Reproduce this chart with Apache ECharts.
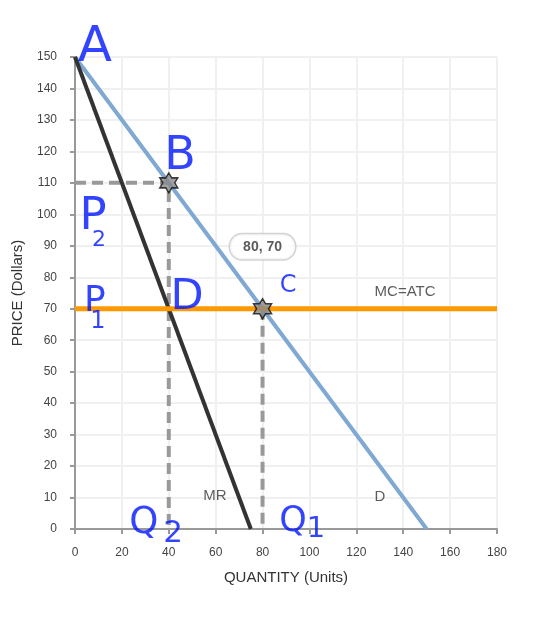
<!DOCTYPE html>
<html>
<head>
<meta charset="utf-8">
<script src="https://cdn.jsdelivr.net/npm/echarts@6/dist/echarts.min.js"></script>
<style>
html,body{margin:0;padding:0;background:#fff;}
#chart{width:546px;height:617px;}
</style>
</head>
<body>
<div id="chart"></div>
<script>
// ---- data ----
const demand = [[0, 150], [150, 0]];          // D
const marginalRevenue = [[0, 150], [75, 0]];  // MR
const mcAtc = [[0, 70], [180, 70]];           // MC=ATC
const dashMonopoly = [[0, 110], [40, 110], [40, 0]];
const dashCompetitive = [[80, 70], [80, 0]];
const starPoints = [[40, 110], [80, 70]];
const calloutPoint = [[80, 70]];
const calloutText = '80, 70';
const curveLabels = [
  [59.7, 10.5, 'MR'],
  [130.1, 10.2, 'D'],
  [140.8, 75.3, 'MC=ATC']
];
// handwritten annotations: [x, y, text, fontSize]
const handLabels = [
  [8.5, 152.9, 'A', 50],
  [44.8, 118.2, 'B', 46],
  [7.7, 99.2, 'P', 45],
  [10.2, 91.9, '2', 22],
  [47.8, 73.4, 'D', 43],
  [8.5, 72.4, 'P', 36],
  [9.8, 65.8, '1', 24],
  [90.9, 77.2, 'C', 24],
  [29.4, 1.9, 'Q', 37],
  [41.8, -1.6, '2', 31],
  [93.0, 2.2, 'Q', 35],
  [102.8, 0.0, '1', 29]
];
const xTicks = { min: 0, max: 180, interval: 20 };
const yTicks = { min: 0, max: 150, interval: 10 };

const star = 'path://M10 0 L12.885 5 L18.66 5 L15.77 10 L18.66 15 L12.885 15 L10 20 L7.115 15 L1.34 15 L4.23 10 L1.34 5 L7.115 5 Z';
const FONT = 'Liberation Sans, Arial, sans-serif';

const chart = echarts.init(document.getElementById('chart'));
chart.setOption({
  animation: false,
  backgroundColor: '#fff',
  grid: { left: 75, right: 49, top: 57, bottom: 88, containLabel: false },
  xAxis: {
    type: 'value', min: xTicks.min, max: xTicks.max, interval: xTicks.interval,
    name: 'QUANTITY (Units)', nameLocation: 'middle', nameGap: 41,
    nameTextStyle: { fontFamily: FONT, fontSize: 15, color: '#333' },
    axisLine: { show: true, lineStyle: { color: '#999', width: 2 } },
    axisTick: { show: true, length: 5, lineStyle: { color: '#999', width: 2 } },
    axisLabel: { fontFamily: FONT, fontSize: 12, color: '#444', margin: 18 },
    splitLine: { show: true, lineStyle: { color: '#f0f0f0', width: 2 } }
  },
  yAxis: {
    type: 'value', min: yTicks.min, max: yTicks.max, interval: yTicks.interval,
    name: 'PRICE (Dollars)', nameLocation: 'middle', nameGap: 50,
    nameTextStyle: { fontFamily: FONT, fontSize: 15, color: '#333' },
    axisLine: { show: true, lineStyle: { color: '#999', width: 2 } },
    axisTick: { show: true, length: 5, lineStyle: { color: '#999', width: 2 } },
    axisLabel: { fontFamily: FONT, fontSize: 12, color: '#444', margin: 18 },
    splitLine: { show: true, lineStyle: { color: '#f0f0f0', width: 2 } }
  },
  series: [
    { type: 'line', data: dashMonopoly, symbol: 'none', z: 2,
      lineStyle: { color: '#999', width: 4, type: [11, 6] } },
    { type: 'line', data: dashCompetitive, symbol: 'none', z: 2,
      lineStyle: { color: '#999', width: 4, type: [11, 6] } },
    { type: 'line', data: demand, symbol: 'none', z: 3,
      lineStyle: { color: '#7fa8d2', width: 4 } },
    { type: 'line', data: marginalRevenue, symbol: 'none', z: 4,
      lineStyle: { color: '#333', width: 4 } },
    { type: 'line', data: mcAtc, symbol: 'none', z: 5,
      lineStyle: { color: '#ff9900', width: 5 } },
    { type: 'scatter', data: starPoints, symbol: star, symbolSize: [18, 20], z: 6,
      itemStyle: { color: '#8a8a8a', borderColor: '#111', borderWidth: 1.5 } },
    { type: 'scatter', data: calloutPoint, symbolSize: 0, z: 7,
      label: { show: true, formatter: calloutText, position: 'inside', offset: [0, -62],
        fontFamily: FONT, fontSize: 14, fontWeight: 'bold', color: '#333',
        backgroundColor: '#fff', borderColor: '#c8c8c8', borderWidth: 1.5,
        borderRadius: 12, padding: [6, 13, 5, 13] } },
    { type: 'scatter', data: curveLabels, symbolSize: 0, z: 7,
      label: { show: true, position: 'inside', formatter: p => p.data[2],
        fontFamily: FONT, fontSize: 15, color: '#333' } },
    { type: 'scatter', clip: false, symbolSize: 0, z: 8,
      data: handLabels.map(d => ({
        value: [d[0], d[1]],
        label: { show: true, position: 'inside', formatter: d[2], fontSize: d[3],
          fontFamily: 'DejaVu Sans, sans-serif', color: '#0015ff' }
      })) }
  ]
});
</script>
</body>
</html>
